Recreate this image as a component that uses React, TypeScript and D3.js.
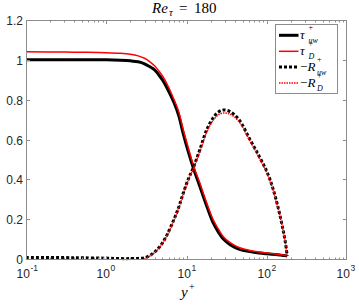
import React from 'react';
import * as d3 from 'd3';

const yPlus = [0.1, 0.3, 0.5, 1, 1.5, 2, 2.5, 3, 3.5, 4, 4.5, 5, 5.7, 7, 8, 9.1, 10.5, 12.2, 14.7, 17.9, 21.6, 25, 28.8, 35, 45, 61.8, 80, 100, 115, 130, 145, 160, 170, 180];
const tauUw = [1.0, 1.0, 1.0, 1.0, 0.998, 0.995, 0.99, 0.98, 0.965, 0.95, 0.925, 0.9, 0.86, 0.785, 0.72, 0.63, 0.54, 0.455, 0.363, 0.265, 0.18, 0.135, 0.1, 0.072, 0.05, 0.037, 0.03, 0.026, 0.024, 0.022, 0.02, 0.018, 0.017, 0.015];
const tauD = [1.04, 1.039, 1.038, 1.036, 1.033, 1.028, 1.02, 1.008, 0.99, 0.97, 0.945, 0.92, 0.88, 0.8, 0.74, 0.65, 0.56, 0.47, 0.38, 0.28, 0.195, 0.15, 0.112, 0.082, 0.058, 0.043, 0.035, 0.03, 0.027, 0.025, 0.022, 0.02, 0.018, 0.015];
const rUw = [0.007, 0.007, 0.006, 0.004, 0.002, 0.002, 0.003, 0.006, 0.018, 0.035, 0.055, 0.08, 0.12, 0.2, 0.26, 0.33, 0.4, 0.46, 0.55, 0.65, 0.71, 0.738, 0.748, 0.74, 0.7, 0.6, 0.518, 0.44, 0.375, 0.302, 0.225, 0.145, 0.088, 0.015];
const rD: (number | null)[] = [null, null, null, null, null, null, null, 0.0, 0.015, 0.032, 0.052, 0.077, 0.117, 0.195, 0.255, 0.325, 0.395, 0.455, 0.54, 0.638, 0.697, 0.724, 0.733, 0.727, 0.69, 0.592, 0.51, 0.433, 0.369, 0.297, 0.222, 0.143, 0.086, 0.015];

const xTickExps = [-1, 0, 1, 2, 3];
const yTicks = [0, 0.2, 0.4, 0.6, 0.8, 1, 1.2];

const W = 359, H = 305;
const L = 26, R = 347, T = 20, B = 259;
const SANS = "'Liberation Sans', Arial, Helvetica, sans-serif";
const SERIF = "'Liberation Serif', 'Times New Roman', serif";

export default function App() {
  const x = d3.scaleLog().domain([0.1, 1000]).range([L, R]);
  const y = d3.scaleLinear().domain([0, 1.2]).range([B, T]);
  const mk = (vals: (number | null)[]) =>
    d3.line<number>()
      .defined((_, i) => vals[i] !== null)
      .x((d) => x(d))
      .y((_, i) => y(vals[i] as number))
      .curve(d3.curveCatmullRom.alpha(0.5))(yPlus) || '';

  const axisCol = '#8c8c8c';
  const txtCol = '#262626';
  const minor: number[] = [];
  for (let e = -1; e < 3; e++) for (let k = 2; k <= 9; k++) minor.push(k * Math.pow(10, e));

  const series = [
    { d: mk(tauUw), stroke: '#000', w: 3, dash: undefined },
    { d: mk(tauD), stroke: '#ff0000', w: 1.5, dash: undefined },
    { d: mk(rUw), stroke: '#000', w: 3, dash: '3 2' },
    { d: mk(rD), stroke: '#ff0000', w: 1.5, dash: '1.5 1' },
  ];
  const legendRows = [
    { neg: false, main: 'τ', sub: 'uw' },
    { neg: false, main: 'τ', sub: 'D' },
    { neg: true, main: 'R', sub: 'uw' },
    { neg: true, main: 'R', sub: 'D' },
  ];
  const rowY = [35.3, 51.3, 67, 83];

  return (
    <svg width={W} height={H} style={{ position: 'fixed', left: 0, top: 0, background: '#fff' }}>
      <rect x={0} y={0} width={W} height={H} fill="#fff" />
      <defs>
        <clipPath id="clip"><rect x={L} y={T - 2} width={R - L} height={B - T + 4} /></clipPath>
      </defs>
      <g clipPath="url(#clip)">
        {series.map((s, i) => (
          <path key={i} d={s.d} fill="none" stroke={s.stroke} strokeWidth={s.w} strokeDasharray={s.dash} strokeLinejoin="round" />
        ))}
      </g>
      {/* box */}
      <rect x={L + 0.5} y={T + 0.5} width={R - L - 1} height={B - T} fill="none" stroke={axisCol} strokeWidth={1} />
      {/* x ticks */}
      {xTickExps.map((e) => {
        const px = Math.min(Math.round(x(Math.pow(10, e))), R - 1) + 0.5;
        return (
          <g key={'xt' + e}>
            <line x1={px} x2={px} y1={B + 0.5} y2={B - 3} stroke={axisCol} />
            <line x1={px} x2={px} y1={T + 0.5} y2={T + 4} stroke={axisCol} />
            <text y={278} fontFamily={SANS} fill={txtCol}>
              <tspan x={px - 10} fontSize={12}>10</tspan>
              <tspan x={px + 4} y={271} fontSize={8.5}>{e < 0 ? '-1' : String(e)}</tspan>
            </text>
          </g>
        );
      })}
      {minor.map((v, i) => {
        const px = Math.round(x(v)) + 0.5;
        return (
          <g key={'mt' + i}>
            <line x1={px} x2={px} y1={B + 0.5} y2={B - 1.5} stroke={axisCol} />
            <line x1={px} x2={px} y1={T + 0.5} y2={T + 2.5} stroke={axisCol} />
          </g>
        );
      })}
      {/* y ticks */}
      {yTicks.map((v) => {
        const py = Math.round(y(v)) + 0.5;
        return (
          <g key={'yt' + v}>
            <line x1={L + 0.5} x2={L + 4} y1={py} y2={py} stroke={axisCol} />
            <line x1={R - 0.5} x2={R - 4} y1={py} y2={py} stroke={axisCol} />
            <text x={23} y={py} dy="0.35em" textAnchor="end" fontFamily={SANS} fontSize={12} fill={txtCol}>{String(v)}</text>
          </g>
        );
      })}
      {/* title */}
      <text y={13} fontFamily={SERIF} fontSize={15} fill="#000">
        <tspan x={152} fontStyle="italic">Re</tspan>
        <tspan x={169} y={16} fontStyle="italic" fontSize={10.5}>τ</tspan>
        <tspan x={179} y={13}>=</tspan>
        <tspan x={194} y={13}>180</tspan>
      </text>
      {/* x label */}
      <text y={297} fontFamily={SERIF} fontSize={15} fill="#000">
        <tspan x={181} fontStyle="italic">y</tspan>
        <tspan x={189} y={290} fontSize={10}>+</tspan>
      </text>
      {/* legend */}
      <rect x={275.5} y={24.5} width={62} height={69} fill="#fff" stroke={axisCol} strokeWidth={1} />
      {legendRows.map((r, i) => {
        const s = series[i];
        const cy = rowY[i];
        const off = r.neg ? 17 : 8.5;
        return (
          <g key={'lg' + i}>
            <line x1={279} x2={298.5} y1={cy} y2={cy} stroke={s.stroke} strokeWidth={s.w} strokeDasharray={s.dash} />
            <text y={cy + 3.5} fontFamily={SERIF} fontSize={13} fill="#000">
              {r.neg ? <tspan x={300}>−</tspan> : null}
              <tspan x={r.neg ? 307.5 : 300} fontStyle="italic">{r.main}</tspan>
              <tspan x={300 + off} y={cy - 5} fontSize={8}>+</tspan>
              <tspan x={300 + off} y={cy + 7.5} fontSize={8} fontStyle="italic">{r.sub}</tspan>
            </text>
          </g>
        );
      })}
    </svg>
  );
}
